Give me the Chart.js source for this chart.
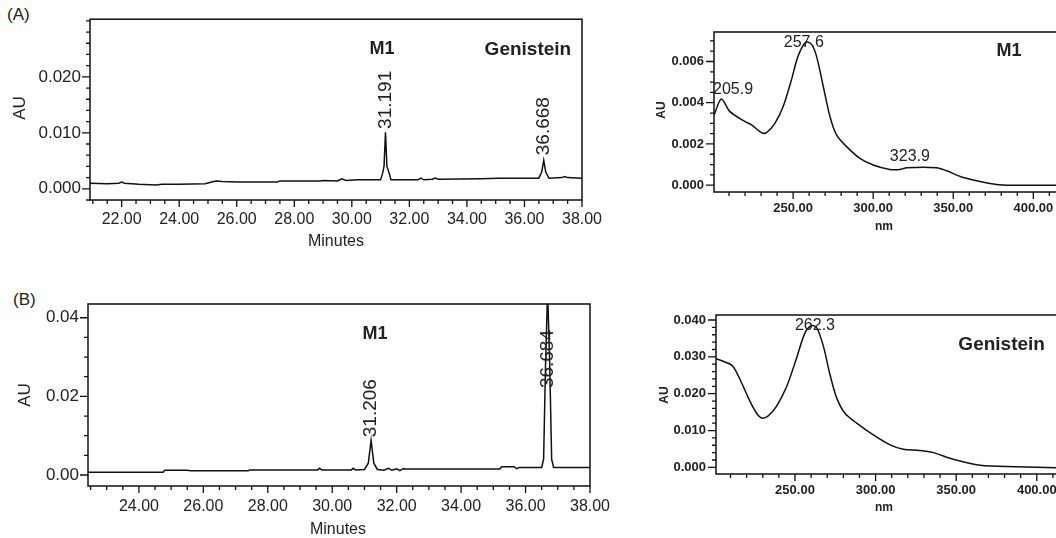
<!DOCTYPE html>
<html>
<head>
<meta charset="utf-8">
<script src="https://cdn.jsdelivr.net/npm/chart.js@4.4.1/dist/chart.umd.min.js"></script>
<style>
  html, body { margin: 0; padding: 0; background: #fff; overflow: hidden; }
  #wrap { position: relative; width: 1056px; height: 538px; overflow: hidden; }
  canvas { position: absolute; }
  .tag { position: absolute; font: 17px "Liberation Sans", Arial, sans-serif; color: #222; }
</style>
</head>
<body>
<div id="wrap">
  <div class="tag" style="left:7px; top:5px;">(A)</div>
  <div class="tag" style="left:13px; top:290px;">(B)</div>
  <canvas id="cA" width="640" height="270" style="left:0; top:0;"></canvas>
  <canvas id="cB" width="640" height="268" style="left:0; top:270px;"></canvas>
  <canvas id="sA" width="440" height="270" style="left:640px; top:0;"></canvas>
  <canvas id="sB" width="440" height="268" style="left:640px; top:270px;"></canvas>
</div>
<script>
// chromatogram (A)
var timeA = [20.9, 21.5, 21.9, 22.0, 22.1, 22.6, 23.2, 23.4, 24.0, 24.9, 25.2, 25.3, 25.5, 26.0, 27.4, 27.5,
  28.9, 29.0, 29.5, 29.65, 29.8, 30.2, 31.0, 31.07, 31.12, 31.17, 31.22, 31.3, 31.36, 32.3, 32.4, 32.5,
  32.8, 32.9, 33.0, 34.5, 35.1, 36.5, 36.6, 36.67, 36.74, 36.85, 37.3, 37.4, 37.5, 38.0];
var auA = [0.001, 0.0009, 0.001, 0.0012, 0.001, 0.0008, 0.0007, 0.0008, 0.0008, 0.0009, 0.0013, 0.0014, 0.0013, 0.0012, 0.0012, 0.0014,
  0.0014, 0.0015, 0.0014, 0.0018, 0.0015, 0.0016, 0.0016, 0.0028, 0.004, 0.0101, 0.004, 0.0028, 0.0016, 0.0016, 0.0019, 0.0016,
  0.0017, 0.0019, 0.0017, 0.0018, 0.0019, 0.0019, 0.003, 0.0051, 0.003, 0.0019, 0.002, 0.0022, 0.002, 0.0019];
// chromatogram (B)
var timeB = [22.42, 24.75, 24.8, 25.5, 25.6, 27.39, 27.45, 29.55, 29.6, 29.68, 30.6, 30.65, 30.72, 31.0, 31.12, 31.206, 31.29,
  31.4, 31.6, 31.75, 31.85, 32.0, 32.1, 32.2, 32.3, 35.2, 35.26, 35.65, 35.72, 35.8, 36.5, 36.56, 36.62, 36.684, 36.75, 36.81, 36.87, 38.0];
var auB = [0.0007, 0.0007, 0.0012, 0.0012, 0.0011, 0.0011, 0.0013, 0.0013, 0.0017, 0.0013, 0.0013, 0.0017, 0.0013, 0.0014, 0.003, 0.0088, 0.003,
  0.0014, 0.0012, 0.0017, 0.0012, 0.0016, 0.0011, 0.0016, 0.0015, 0.0015, 0.0021, 0.0021, 0.0016, 0.0019, 0.0019, 0.004, 0.028, 0.047, 0.028, 0.004, 0.0019, 0.0019];
// UV spectrum of M1
var nmM1 = [200.6, 205.2, 210.4, 219.8, 224, 230.2, 233.4, 238.6, 243.8, 249, 253.1, 258, 261.5, 264.6, 268.8, 273, 277.1,
  283.4, 291.7, 300, 310.4, 316.7, 320.9, 339.6, 345.9, 356.3, 372.9, 383.4, 423];
var uvM1 = [0.0034, 0.00418, 0.00358, 0.00309, 0.00293, 0.00255, 0.00255, 0.003, 0.00382, 0.00512, 0.00626, 0.00694, 0.00683, 0.00626, 0.0048, 0.00333, 0.00244,
  0.00187, 0.0013, 0.00098, 0.00076, 0.00076, 0.00085, 0.00085, 0.0007, 0.00037, 0.00008, 0, 0];
// UV spectrum of genistein
var nmGen = [201, 205.5, 211.3, 216.9, 222.1, 226.2, 229.3, 233.4, 238.6, 244.9, 251, 256.2, 260.4, 263.5, 267.6, 271.7, 275.9,
  281, 288.3, 298.6, 309, 317.2, 327.5, 335.8, 348.2, 364.8, 387.5, 412, 421];
var uvGen = [0.0295, 0.0288, 0.0275, 0.0229, 0.0179, 0.0147, 0.0134, 0.014, 0.0166, 0.022, 0.0297, 0.0365, 0.0385, 0.0379, 0.0329, 0.0252, 0.0188,
  0.0147, 0.012, 0.0088, 0.0061, 0.0049, 0.0046, 0.004, 0.0022, 0.0006, 0.0002, -0.0001, -0.0001];

var minTicksA = [22, 24, 26, 28, 30, 32, 34, 36, 38];
var auTicksA = [0, 0.01, 0.02];
var minTicksB = [24, 26, 28, 30, 32, 34, 36, 38];
var auTicksB = [0, 0.02, 0.04];
var nmTicks = [250, 300, 350, 400];
var uvTicksM1 = [0, 0.002, 0.004, 0.006];
var uvTicksGen = [0, 0.01, 0.02, 0.03, 0.04];

var FONT = '"Liberation Sans", Arial, sans-serif';

function steps(a, b, d) {
  var out = [];
  for (var v = a; v <= b + d / 1000; v += d) out.push(Math.round(v * 1e6) / 1e6);
  return out;
}

// box, tick marks and text drawn on top of the library's scales
var frame = {
  id: 'frame',
  afterDraw: function(chart, args, o) {
    var c = chart.ctx, a = chart.chartArea, sx = chart.scales.x, sy = chart.scales.y;
    c.save();
    c.strokeStyle = '#111';
    c.lineWidth = 1.5;
    c.strokeRect(a.left, a.top, a.right - a.left, a.bottom - a.top);
    c.lineWidth = 1.3;
    c.beginPath();
    o.xMinor.forEach(function(v) { var p = sx.getPixelForValue(v); if (p < a.left - 1 || p > a.right + 1) return; c.moveTo(p, a.bottom); c.lineTo(p, a.bottom + 4); });
    o.xMajor.forEach(function(v) { var p = sx.getPixelForValue(v); c.moveTo(p, a.bottom); c.lineTo(p, a.bottom + 7); });
    o.yMinor.forEach(function(v) { var p = sy.getPixelForValue(v); if (p < a.top - 1 || p > a.bottom + 1) return; c.moveTo(a.left, p); c.lineTo(a.left - 4, p); });
    o.yMajor.forEach(function(v) { var p = sy.getPixelForValue(v); c.moveTo(a.left, p); c.lineTo(a.left - 8, p); });
    c.stroke();
    c.fillStyle = '#222';
    o.notes.forEach(function(n) {
      var px = n.data ? sx.getPixelForValue(n.x) : n.x;
      var py = n.data ? sy.getPixelForValue(n.y) : n.y;
      c.save();
      c.translate(px, py);
      c.font = n.font;
      if (n.rot) {
        c.rotate(-Math.PI / 2);
        c.textAlign = n.align || 'left';
      } else {
        c.textAlign = 'center';
      }
      c.textBaseline = 'middle';
      c.fillText(n.t, 0, 0);
      c.restore();
    });
    c.restore();
  }
};

function makeChart(id, xs, ys, cfg) {
  var pairs = xs.map(function(v, i) { return { x: v, y: ys[i] }; });
  return new Chart(document.getElementById(id), {
    type: 'line',
    data: { datasets: [{ data: pairs, borderColor: '#111', borderWidth: 1.5, pointRadius: 0, tension: cfg.tension, fill: false }] },
    options: {
      responsive: false,
      animation: false,
      events: [],
      layout: { padding: cfg.pad },
      plugins: { legend: { display: false }, tooltip: { enabled: false }, frame: cfg.frame },
      scales: {
        x: {
          type: 'linear', min: cfg.xmin, max: cfg.xmax,
          grid: { display: false, drawTicks: false }, border: { display: false },
          afterBuildTicks: function(s) { s.ticks = cfg.xTicks.map(function(v) { return { value: v }; }); },
          afterFit: function(s) { s.height = cfg.xh; },
          ticks: { padding: cfg.xpad, color: '#222', font: cfg.xfont, maxRotation: 0, autoSkip: false,
            callback: function(v) { return v.toFixed(2); } }
        },
        y: {
          type: 'linear', min: cfg.ymin, max: cfg.ymax,
          grid: { display: false, drawTicks: false }, border: { display: false },
          afterBuildTicks: function(s) { s.ticks = cfg.yTicks.map(function(v) { return { value: v }; }); },
          afterFit: function(s) { s.width = cfg.yw; },
          ticks: { padding: cfg.ypad, color: '#222', font: cfg.yfont, autoSkip: false,
            callback: function(v) { return v.toFixed(cfg.ydec); } }
        }
      }
    },
    plugins: [frame]
  });
}

makeChart('cA', timeA, auA, {
  tension: 0, xmin: 20.9, xmax: 38, ymin: -0.002, ymax: 0.0303,
  pad: { left: 0, top: 19, right: 58, bottom: 0 }, xh: 70, yw: 90, xpad: 10, ypad: 9,
  xTicks: minTicksA, yTicks: auTicksA, ydec: 3,
  xfont: { family: FONT, size: 16 }, yfont: { family: FONT, size: 17 },
  frame: {
    xMajor: minTicksA, xMinor: steps(21, 38, 0.5), yMajor: auTicksA, yMinor: steps(-0.002, 0.030, 0.002),
    notes: [
      { t: 'M1', x: 31.05, y: 0.0249, data: true, font: 'bold 18px ' + FONT },
      { t: 'Genistein', x: 36.12, y: 0.0249, data: true, font: 'bold 19px ' + FONT },
      { t: '31.191', x: 31.17, y: 0.0107, data: true, rot: true, font: '19px ' + FONT },
      { t: '36.668', x: 36.67, y: 0.006, data: true, rot: true, font: '19px ' + FONT },
      { t: 'AU', x: 20, y: 108, rot: true, align: 'center', font: '17px ' + FONT },
      { t: 'Minutes', x: 336, y: 242, font: '16px ' + FONT }
    ]
  }
});

makeChart('cB', timeB, auB, {
  tension: 0, xmin: 22.42, xmax: 38, ymin: -0.0028, ymax: 0.0435,
  pad: { left: 0, top: 34, right: 50, bottom: 0 }, xh: 52, yw: 88, xpad: 11, ypad: 9,
  xTicks: minTicksB, yTicks: auTicksB, ydec: 2,
  xfont: { family: FONT, size: 16 }, yfont: { family: FONT, size: 17 },
  frame: {
    xMajor: minTicksB, xMinor: steps(22.5, 38, 0.5), yMajor: auTicksB, yMinor: steps(0, 0.04, 0.005),
    notes: [
      { t: 'M1', x: 31.33, y: 0.0358, data: true, font: 'bold 18px ' + FONT },
      { t: '31.206', x: 31.206, y: 0.0096, data: true, rot: true, font: '19px ' + FONT },
      { t: '36.684', x: 36.684, y: 0.0221, data: true, rot: true, font: '19px ' + FONT },
      { t: 'AU', x: 25, y: 125, rot: true, align: 'center', font: '17px ' + FONT },
      { t: 'Minutes', x: 338, y: 260, font: '16px ' + FONT }
    ]
  }
});

makeChart('sA', nmM1, uvM1, {
  tension: 0.3, xmin: 200.6, xmax: 422.9, ymin: -0.00033, ymax: 0.00743,
  pad: { left: 0, top: 32, right: 10, bottom: 0 }, xh: 78, yw: 74, xpad: 9, ypad: 10,
  xTicks: nmTicks, yTicks: uvTicksM1, ydec: 3,
  xfont: { family: FONT, size: 13, weight: 'bold' }, yfont: { family: FONT, size: 13, weight: 'bold' },
  frame: {
    xMajor: nmTicks, xMinor: steps(210, 420, 10), yMajor: uvTicksM1, yMinor: steps(0, 0.007, 0.0005),
    notes: [
      { t: '205.9', x: 212.5, y: 0.00462, data: true, font: '16px ' + FONT },
      { t: '257.6', x: 256.7, y: 0.00692, data: true, font: '16px ' + FONT },
      { t: '323.9', x: 322.9, y: 0.00138, data: true, font: '16px ' + FONT },
      { t: 'M1', x: 384.8, y: 0.00649, data: true, font: 'bold 18px ' + FONT },
      { t: 'AU', x: 22, y: 110, rot: true, align: 'center', font: 'bold 12px ' + FONT },
      { t: 'nm', x: 244, y: 227, font: 'bold 12px ' + FONT }
    ]
  }
});

makeChart('sB', nmGen, uvGen, {
  tension: 0.3, xmin: 201, xmax: 420.6, ymin: -0.0018, ymax: 0.04136,
  pad: { left: 0, top: 45, right: 10, bottom: 0 }, xh: 64, yw: 76, xpad: 9, ypad: 10,
  xTicks: nmTicks, yTicks: uvTicksGen, ydec: 3,
  xfont: { family: FONT, size: 13, weight: 'bold' }, yfont: { family: FONT, size: 13, weight: 'bold' },
  frame: {
    xMajor: nmTicks, xMinor: steps(210, 420, 10), yMajor: uvTicksGen, yMinor: steps(0, 0.04, 0.002),
    notes: [
      { t: '262.3', x: 262.4, y: 0.0384, data: true, font: '16px ' + FONT },
      { t: 'Genistein', x: 378.2, y: 0.0332, data: true, font: 'bold 19px ' + FONT },
      { t: 'AU', x: 25, y: 125, rot: true, align: 'center', font: 'bold 12px ' + FONT },
      { t: 'nm', x: 244, y: 238, font: 'bold 12px ' + FONT }
    ]
  }
});
</script>
</body>
</html>
